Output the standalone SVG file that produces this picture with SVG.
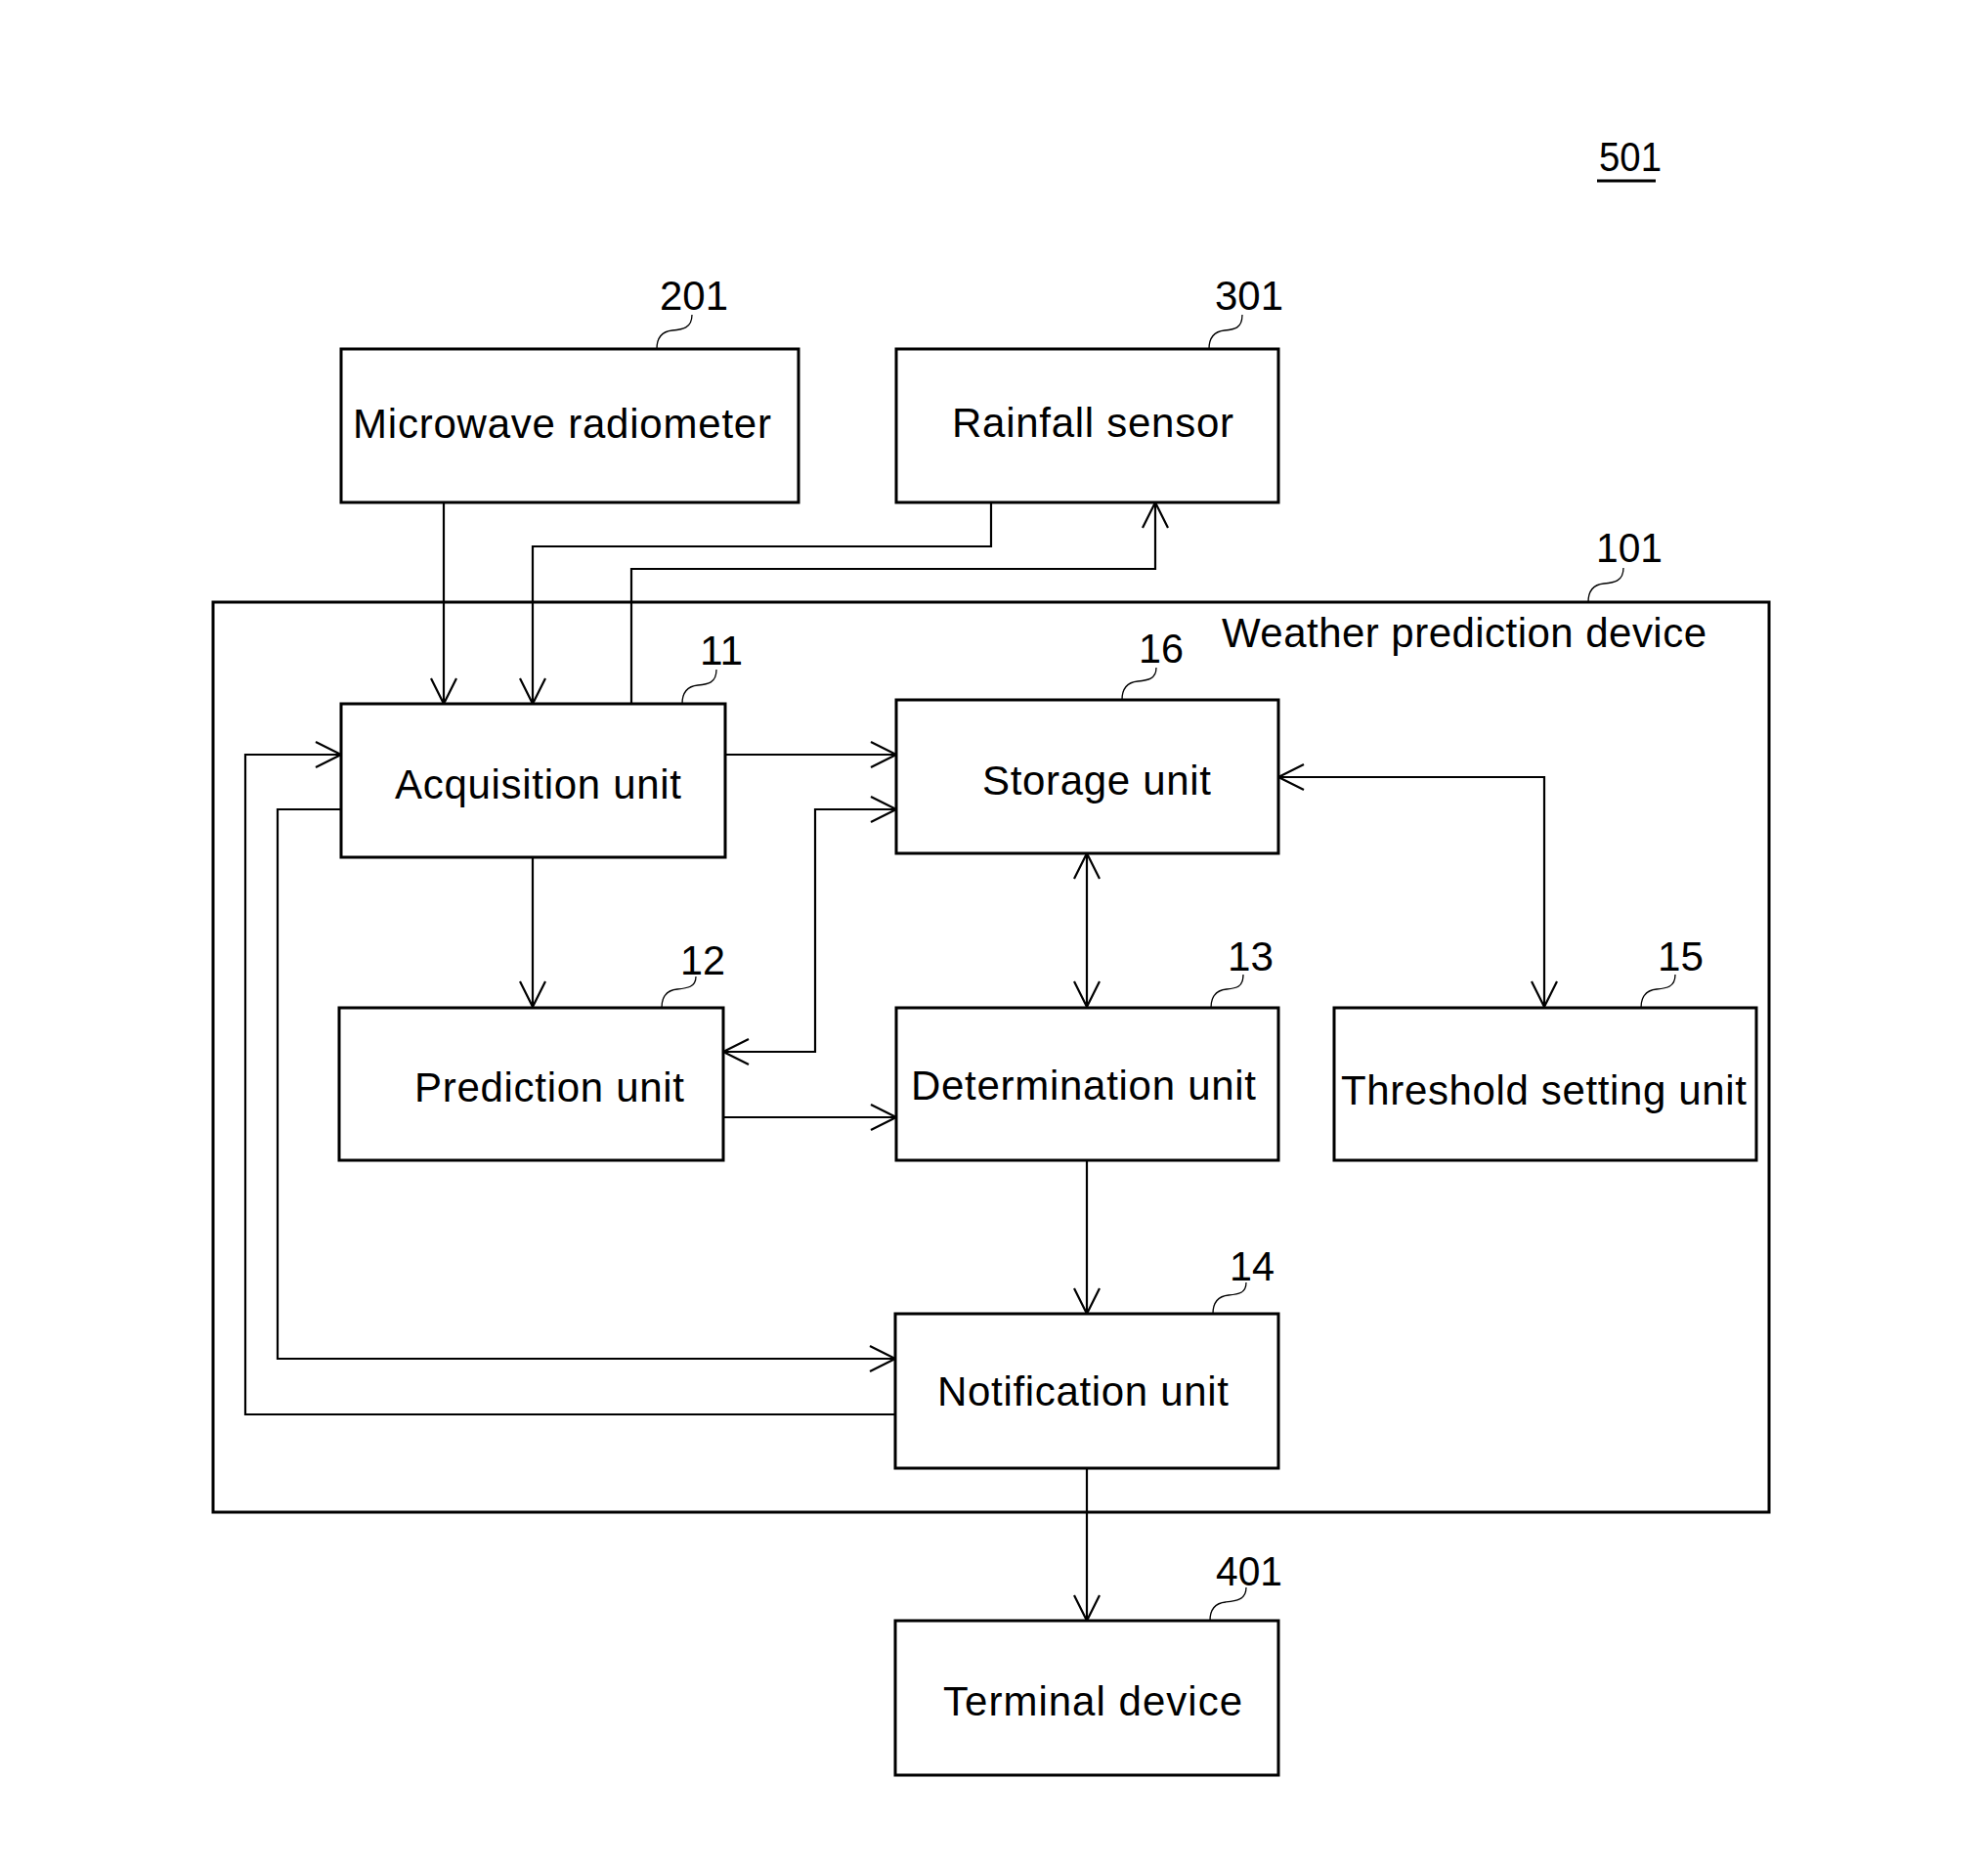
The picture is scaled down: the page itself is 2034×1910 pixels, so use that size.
<svg xmlns="http://www.w3.org/2000/svg" width="2034" height="1910" viewBox="0 0 2034 1910">
  <defs>
    <marker id="arrow" markerUnits="userSpaceOnUse" markerWidth="40" markerHeight="40" viewBox="-30 -20 40 40" refX="0" refY="0" orient="auto">
      <path d="M-26,-13 L0,0 L-26,13" fill="none" stroke="#000" stroke-width="2.2"/>
    </marker>
    <marker id="arrow-start" markerUnits="userSpaceOnUse" markerWidth="40" markerHeight="40" viewBox="-30 -20 40 40" refX="0" refY="0" orient="auto-start-reverse">
      <path d="M-26,-13 L0,0 L-26,13" fill="none" stroke="#000" stroke-width="2.2"/>
    </marker>
  </defs>
  <style>
    .box { fill: #fff; stroke: #000; stroke-width: 3; }
    .frame { fill: none; stroke: #000; stroke-width: 3; }
    .label { font-family: "Liberation Sans", Arial, sans-serif; font-size: 42px; fill: #000; }
    .ref { font-family: "Liberation Sans", Arial, sans-serif; font-size: 43px; fill: #000; }
    .lead { fill: none; stroke: #000; stroke-width: 1.3; }
    .wire { fill: none; stroke: #000; stroke-width: 2.2; }
  </style>

  <rect width="2034" height="1910" fill="#fff"/>

  <!-- figure reference -->
  <g id="fig-ref">
    <text class="ref" x="1636" y="175" font-size="40" textLength="64" lengthAdjust="spacingAndGlyphs">501</text>
    <line x1="1634" y1="185" x2="1694" y2="185" stroke="#000" stroke-width="3"/>
  </g>

  <!-- weather prediction device frame -->
  <g id="device-101">
    <rect class="frame" x="218" y="616" width="1592" height="931"/>
    <text class="label" x="1250" y="662" textLength="496">Weather prediction device</text>
    <path class="lead" d="M1625,616 c0,-12 6,-18 16,-19 c10,-1 20,-2 20,-16"/>
    <text class="ref" x="1633" y="575" textLength="68" lengthAdjust="spacingAndGlyphs">101</text>
  </g>

  <!-- connectors -->
  <g id="connectors">
    <!-- microwave radiometer to acquisition -->
    <path class="wire" d="M454,514 V720" marker-end="url(#arrow)"/>
    <!-- rainfall sensor to acquisition -->
    <path class="wire" d="M1014,514 V559 H545 V720" marker-end="url(#arrow)"/>
    <!-- acquisition back to rainfall sensor -->
    <path class="wire" d="M646,720 V582 H1182 V514" marker-end="url(#arrow)"/>
    <!-- acquisition to storage -->
    <path class="wire" d="M742,772 H917" marker-end="url(#arrow)"/>
    <!-- acquisition to prediction -->
    <path class="wire" d="M545,877 V1030" marker-end="url(#arrow)"/>
    <!-- storage <-> prediction -->
    <path class="wire" d="M740,1076 H834 V828 H917" marker-start="url(#arrow-start)" marker-end="url(#arrow)"/>
    <!-- prediction to determination -->
    <path class="wire" d="M740,1143 H917" marker-end="url(#arrow)"/>
    <!-- storage <-> determination -->
    <path class="wire" d="M1112,873 V1030" marker-start="url(#arrow-start)" marker-end="url(#arrow)"/>
    <!-- storage <-> threshold setting -->
    <path class="wire" d="M1308,795 H1580 V1030" marker-start="url(#arrow-start)" marker-end="url(#arrow)"/>
    <!-- determination to notification -->
    <path class="wire" d="M1112,1187 V1344" marker-end="url(#arrow)"/>
    <!-- acquisition to notification -->
    <path class="wire" d="M349,828 H284 V1390 H916" marker-end="url(#arrow)"/>
    <!-- notification back to acquisition -->
    <path class="wire" d="M916,1447 H251 V772 H349" marker-end="url(#arrow)"/>
    <!-- notification to terminal -->
    <path class="wire" d="M1112,1502 V1658" marker-end="url(#arrow)"/>
  </g>

  <g id="microwave-radiometer-201">
    <rect class="box" x="349" y="357" width="468" height="157"/>
    <text class="label" x="361" y="448" textLength="428">Microwave radiometer</text>
    <path class="lead" d="M672,357 c0,-12 6,-18 16,-19 c10,-1 20,-2 20,-16"/>
    <text class="ref" x="675" y="317" textLength="70" lengthAdjust="spacingAndGlyphs">201</text>
  </g>

  <g id="rainfall-sensor-301">
    <rect class="box" x="917" y="357" width="391" height="157"/>
    <text class="label" x="974" y="447" textLength="288">Rainfall sensor</text>
    <path class="lead" d="M1237,357 c0,-12 6,-18 16,-19 c10,-1 18,-2 18,-16"/>
    <text class="ref" x="1243" y="317" textLength="70" lengthAdjust="spacingAndGlyphs">301</text>
  </g>

  <g id="acquisition-unit-11">
    <rect class="box" x="349" y="720" width="393" height="157"/>
    <text class="label" x="404" y="817" textLength="293">Acquisition unit</text>
    <path class="lead" d="M698,720 c0,-12 6,-18 16,-19 c10,-1 19,-2 19,-16"/>
    <text class="ref" x="716" y="680" textLength="44" lengthAdjust="spacingAndGlyphs">11</text>
  </g>

  <g id="storage-unit-16">
    <rect class="box" x="917" y="716" width="391" height="157"/>
    <text class="label" x="1005" y="813" textLength="234">Storage unit</text>
    <path class="lead" d="M1148,716 c0,-12 6,-18 16,-19 c10,-1 19,-2 19,-14"/>
    <text class="ref" x="1165" y="678" textLength="46" lengthAdjust="spacingAndGlyphs">16</text>
  </g>

  <g id="prediction-unit-12">
    <rect class="box" x="347" y="1031" width="393" height="156"/>
    <text class="label" x="424" y="1127" textLength="276">Prediction unit</text>
    <path class="lead" d="M677,1031 c0,-12 6,-18 16,-19 c10,-1 19,-2 19,-13"/>
    <text class="ref" x="696" y="997" textLength="46" lengthAdjust="spacingAndGlyphs">12</text>
  </g>

  <g id="determination-unit-13">
    <rect class="box" x="917" y="1031" width="391" height="156"/>
    <text class="label" x="932" y="1125" textLength="353">Determination unit</text>
    <path class="lead" d="M1239,1031 c0,-12 6,-18 16,-19 c10,-1 17,-2 17,-15"/>
    <text class="ref" x="1256" y="993" textLength="47" lengthAdjust="spacingAndGlyphs">13</text>
  </g>

  <g id="threshold-setting-unit-15">
    <rect class="box" x="1365" y="1031" width="432" height="156"/>
    <text class="label" x="1372" y="1130" textLength="415">Threshold setting unit</text>
    <path class="lead" d="M1679,1031 c0,-12 6,-18 16,-19 c10,-1 19,-2 19,-15"/>
    <text class="ref" x="1696" y="993" textLength="47" lengthAdjust="spacingAndGlyphs">15</text>
  </g>

  <g id="notification-unit-14">
    <rect class="box" x="916" y="1344" width="392" height="158"/>
    <text class="label" x="959" y="1438" textLength="298">Notification unit</text>
    <path class="lead" d="M1241,1344 c0,-12 6,-18 16,-19 c10,-1 18,-2 18,-13"/>
    <text class="ref" x="1258" y="1310" textLength="46" lengthAdjust="spacingAndGlyphs">14</text>
  </g>

  <g id="terminal-device-401">
    <rect class="box" x="916" y="1658" width="392" height="158"/>
    <text class="label" x="965" y="1755" textLength="306">Terminal device</text>
    <path class="lead" d="M1238,1658 c0,-12 6,-18 16,-19 c10,-1 21,-2 21,-15"/>
    <text class="ref" x="1244" y="1622" textLength="68" lengthAdjust="spacingAndGlyphs">401</text>
  </g>
</svg>
